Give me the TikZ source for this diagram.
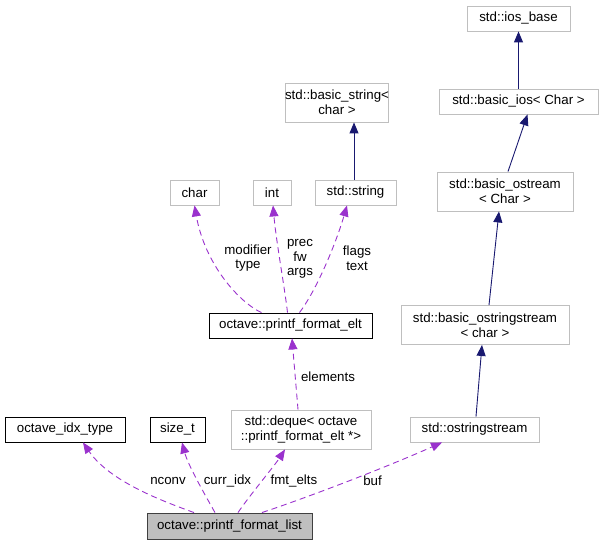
\documentclass[tikz,border=0pt]{standalone}
\usepackage{fontspec}
\setmainfont{Liberation Sans}
\usetikzlibrary{arrows.meta}
\definecolor{gborder}{HTML}{BFBFBF}
\definecolor{purp}{HTML}{9A32CD}
\definecolor{navy}{HTML}{191970}
\definecolor{lfill}{HTML}{BFBFBF}
\definecolor{lborder}{HTML}{404040}
\tikzset{
  box/.style={rectangle, draw=gborder, line width=0.9pt, inner sep=0pt, minimum height=25pt, align=center, font=\fontsize{13.3}{15}\selectfont},
  bbox/.style={box, draw=black},
  tall/.style={minimum height=39pt},
  inh/.style={draw=navy, line width=0.9pt, -{Triangle[length=11pt,width=9pt]}},
  use/.style={draw=purp, line width=0.9pt, dash pattern=on 6pt off 4pt, -{Triangle[length=11pt,width=9pt,fill=purp]}},
  lbl/.style={font=\fontsize{13.3}{14.5}\selectfont, align=center, inner sep=0pt}
}
\begin{document}
\begin{tikzpicture}[x=1pt,y=-1pt]
\useasboundingbox (0,0) rectangle (603,545);
% nodes
\node[box, minimum width=103pt] (iosbase) at (518.5,18.5) {std::ios\_base};
\node[box, minimum width=159pt] (basicios) at (518.5,101.5) {std::basic\_ios< Char >};
\node[box, tall, minimum width=136pt] (bostream) at (505,191.5) {std::basic\_ostream\\< Char >};
\node[box, tall, minimum width=168pt] (bostrs) at (485,325) {std::basic\_ostringstream\\< char >};
\node[box, minimum width=129pt] (ostrs) at (474.5,429.5) {std::ostringstream};
\node[box, tall, minimum width=98pt] (bstring) at (337,102.5) {std::basic\_string<\\char >};
\node[box, minimum width=49pt] (char) at (194.5,192.5) {char};
\node[box, minimum width=38pt] (int) at (272,192.5) {int};
\node[box, minimum width=81pt] (string) at (355.5,192.5) {std::string};
\node[bbox, minimum width=163pt] (elt) at (290.5,325.5) {octave::printf\_format\_elt};
\node[bbox, minimum width=120pt] (idx) at (65,429.5) {octave\_idx\_type};
\node[bbox, minimum width=55pt] (sizet) at (177.5,429.5) {size\_t};
\node[box, tall, minimum width=140pt] (deque) at (301,429.5) {std::deque< octave\\::printf\_format\_elt *>};
\node[box, draw=lborder, fill=lfill, minimum width=165pt, minimum height=26pt] (list) at (229.5,526) {octave::printf\_format\_list};
% inheritance
\draw[inh] (basicios.north -| iosbase.south) -- (iosbase.south);
\draw[inh] ([xshift=3pt]bostream.north) -- ([xshift=9pt]basicios.south);
\draw[inh] ([xshift=4pt]bostrs.north) -- ([xshift=-6pt]bostream.south);
\draw[inh] ([xshift=1.5pt]ostrs.north) -- ([xshift=-3pt]bostrs.south);
\draw[inh] ([xshift=-1.5pt]string.north) -- ([xshift=17pt]bstring.south);
% usage
\draw[use] ([xshift=-35.5pt]list.north) .. controls (165,502) and (110,482) .. ([xshift=18pt]idx.south);
\draw[use] ([xshift=-14.5pt]list.north) .. controls (205,495) and (188,465) .. ([xshift=4.5pt]sizet.south);
\draw[use] ([xshift=8.5pt]list.north) .. controls (250,495) and (275,465) .. ([xshift=-16pt]deque.south);
\draw[use] ([xshift=32.5pt]list.north) .. controls (300,500) and (380,470) .. ([xshift=-32.5pt]ostrs.south);
\draw[use] ([xshift=-3pt]deque.north) -- ([xshift=1.5pt]elt.south);
\draw[use] ([xshift=-29pt]elt.north) .. controls (240,303) and (205,265) .. (char.south);
\draw[use] ([xshift=-3pt]elt.north) .. controls (285,290) and (276,240) .. ([xshift=1pt]int.south);
\draw[use] ([xshift=9pt]elt.north) .. controls (318,288) and (337,240) .. ([xshift=-8.5pt]string.south);
% labels
\node[lbl] (l1) at (248,258) {modifier\\type};
\node[lbl] (l2) at (300,259) {prec\\fw\\args};
\node[lbl] (l3) at (357,258) {flags\\text};
\node[lbl] (l4) at (328,377) {elements};
\node[lbl] (l5) at (168,481) {nconv};
\node[lbl] (l6) at (227.5,481) {curr\_idx};
\node[lbl] (l7) at (294,481) {fmt\_elts};
\node[lbl] (l8) at (372.5,481) {buf};
\end{tikzpicture}
\end{document}
